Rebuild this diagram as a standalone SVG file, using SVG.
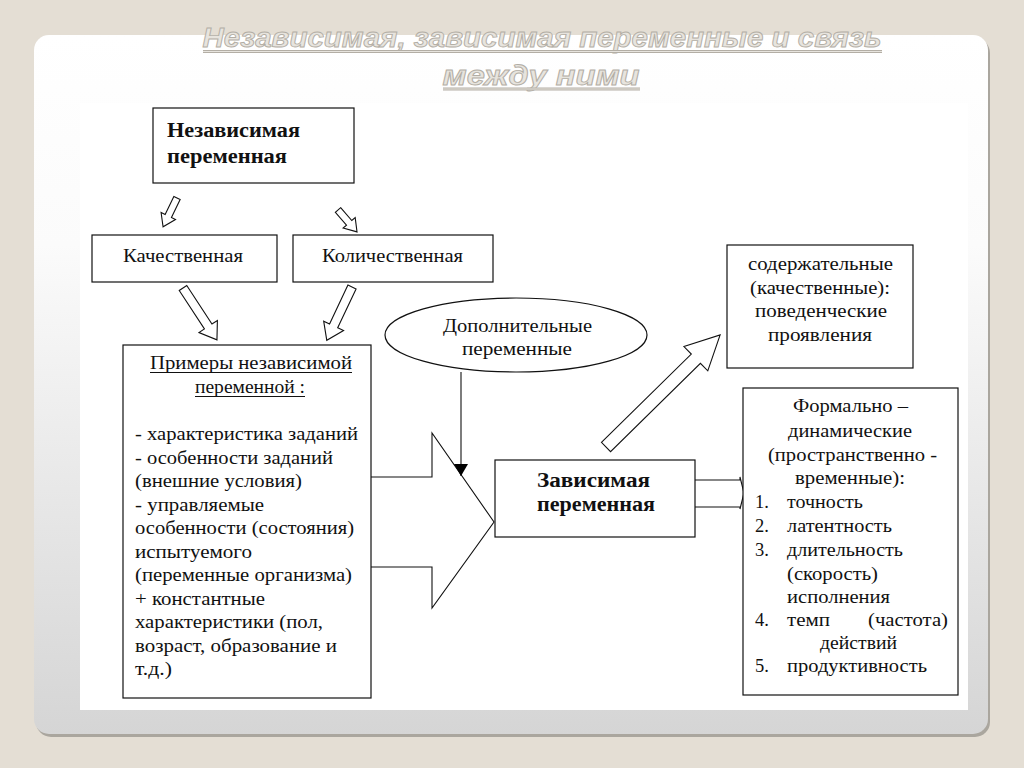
<svg xmlns="http://www.w3.org/2000/svg" width="1024" height="768" viewBox="0 0 1024 768">
<defs>
<linearGradient id="panelGrad" x1="0" y1="0" x2="0" y2="1">
<stop offset="0" stop-color="#ffffff"/>
<stop offset="0.3" stop-color="#fbfbfb"/>
<stop offset="1" stop-color="#d5d5d5"/>
</linearGradient>
<marker id="tri" markerWidth="12" markerHeight="14" refX="12" refY="7" orient="auto" markerUnits="userSpaceOnUse">
<path d="M0,0 L12,7 L0,14 Z" fill="#000"/>
</marker>
</defs>
<style>
.box{fill:#fff;stroke:#111;stroke-width:1.2}
.line{fill:none;stroke:#111;stroke-width:1.1}
.blk{fill:#fff;stroke:#111;stroke-width:1.1;stroke-linejoin:miter}
.t{font-family:"Liberation Serif","Times New Roman",serif;font-size:18.5px;fill:#111}
.tb{font-family:"Liberation Serif","Times New Roman",serif;font-size:20px;font-weight:bold;fill:#111}
.title{font-family:"Liberation Sans",Arial,sans-serif;font-size:27px;font-style:italic;font-weight:bold;fill:#e7e4de;stroke:#b3aea5;stroke-width:0.9;text-anchor:middle}
.ul{stroke:#b3aea5;stroke-width:3.2;fill:none}
.ul2{stroke:#e7e4de;stroke-width:1.2;fill:none}
</style>
<rect x="0" y="0" width="1024" height="768" fill="#e4ded4"/>
<rect x="36" y="38" width="954" height="699" rx="15" fill="#aaa69e"/>
<rect x="34" y="35" width="954" height="699" rx="15" fill="url(#panelGrad)"/>
<rect x="80" y="103" width="888" height="607" fill="#ffffff"/>

<g id="title">
<text class="title" x="542" y="47" textLength="679" lengthAdjust="spacingAndGlyphs">Независимая, зависимая переменные и связь</text>
<path class="ul" d="M203,51.5 H882"/>
<path class="ul2" d="M203,51.5 H882"/>
<text class="title" x="541" y="85" textLength="197" lengthAdjust="spacingAndGlyphs">между ними</text>
<path class="ul" d="M443,89 H640"/>
<path class="ul2" d="M443,89 H640"/>
</g>

<g id="connectors">
<path class="blk" transform="translate(177,198) rotate(115.8)" d="M0,-3.5 L20,-3.5 L20,-8 L32,0 L20,8 L20,3.5 L0,3.5 Z"/>
<path class="blk" transform="translate(338,210) rotate(49)" d="M0,-3.5 L17,-3.5 L17,-8 L29,0 L17,8 L17,3.5 L0,3.5 Z"/>
<path class="blk" transform="translate(183,288) rotate(56.8)" d="M0,-4.5 L46,-4.5 L46,-11 L62,0 L46,11 L46,4.5 L0,4.5 Z"/>
<path class="blk" transform="translate(352,287) rotate(115.3)" d="M0,-4.5 L43,-4.5 L43,-11 L59,0 L43,11 L43,4.5 L0,4.5 Z"/>
<path class="blk" transform="translate(606,447) rotate(-44.5)" d="M0,-6.5 L126,-6.5 L126,-17 L160,0 L126,17 L126,6.5 L0,6.5 Z"/>
<path class="blk" d="M371,477 H432 V433 L494,522 L432,608 V567 H371"/>
<path class="blk" d="M695,480 H740 V477 L744,493 L740,509 V507 H695"/>
<path class="line" d="M461,372 V476" marker-end="url(#tri)"/>
</g>

<g id="node-independent">
<rect class="box" x="153" y="108" width="201" height="75"/>
<text class="tb" x="167" y="137" textLength="133" lengthAdjust="spacingAndGlyphs">Независимая</text>
<text class="tb" x="167" y="163" textLength="120" lengthAdjust="spacingAndGlyphs">переменная</text>
</g>

<g id="node-qualitative">
<rect class="box" x="92" y="235" width="185" height="47"/>
<text class="t" x="123" y="262" textLength="120" lengthAdjust="spacingAndGlyphs">Качественная</text>
</g>

<g id="node-quantitative">
<rect class="box" x="293" y="235" width="200" height="47"/>
<text class="t" x="322" y="262" textLength="141" lengthAdjust="spacingAndGlyphs">Количественная</text>
</g>

<g id="node-examples">
<rect class="box" x="123" y="345" width="248" height="353"/>
<text class="t" x="150" y="369" textLength="202" lengthAdjust="spacingAndGlyphs">Примеры независимой</text>
<path class="line" d="M150,372.5 H352"/>
<text class="t" x="195" y="393" textLength="110" lengthAdjust="spacingAndGlyphs">переменной :</text>
<path class="line" d="M195,396.5 H305"/>
<text class="t" x="135" y="440" textLength="223" lengthAdjust="spacingAndGlyphs">- характеристика заданий</text>
<text class="t" x="135" y="463.5" textLength="198" lengthAdjust="spacingAndGlyphs">- особенности заданий</text>
<text class="t" x="135" y="487" textLength="167" lengthAdjust="spacingAndGlyphs">(внешние условия)</text>
<text class="t" x="135" y="510.5" textLength="129" lengthAdjust="spacingAndGlyphs">- управляемые</text>
<text class="t" x="135" y="534" textLength="219" lengthAdjust="spacingAndGlyphs">особенности (состояния)</text>
<text class="t" x="135" y="557.5" textLength="117" lengthAdjust="spacingAndGlyphs">испытуемого</text>
<text class="t" x="135" y="581" textLength="217" lengthAdjust="spacingAndGlyphs">(переменные организма)</text>
<text class="t" x="135" y="604.5" textLength="130" lengthAdjust="spacingAndGlyphs">+ константные</text>
<text class="t" x="135" y="628" textLength="188" lengthAdjust="spacingAndGlyphs">характеристики (пол,</text>
<text class="t" x="135" y="651.5" textLength="202" lengthAdjust="spacingAndGlyphs">возраст, образование и</text>
<text class="t" x="135" y="675" textLength="37" lengthAdjust="spacingAndGlyphs">т.д.)</text>
</g>

<g id="node-additional">
<ellipse class="box" cx="516" cy="335" rx="131" ry="37"/>
<text class="t" x="443" y="332" textLength="149" lengthAdjust="spacingAndGlyphs">Дополнительные</text>
<text class="t" x="462" y="355" textLength="110" lengthAdjust="spacingAndGlyphs">переменные</text>
</g>

<g id="node-dependent">
<rect class="box" x="495" y="460" width="200" height="77"/>
<text class="tb" x="537" y="487" textLength="113" lengthAdjust="spacingAndGlyphs">Зависимая</text>
<text class="tb" x="537" y="511" textLength="118" lengthAdjust="spacingAndGlyphs">переменная</text>
</g>

<g id="node-content">
<rect class="box" x="727" y="245" width="186" height="123"/>
<text class="t" x="748" y="270" textLength="145" lengthAdjust="spacingAndGlyphs">содержательные</text>
<text class="t" x="750" y="293.5" textLength="140" lengthAdjust="spacingAndGlyphs">(качественные):</text>
<text class="t" x="755" y="317" textLength="132" lengthAdjust="spacingAndGlyphs">поведенческие</text>
<text class="t" x="768" y="340.5" textLength="104" lengthAdjust="spacingAndGlyphs">проявления</text>
</g>

<g id="node-formal">
<rect class="box" x="743" y="388" width="215" height="307"/>
<text class="t" x="793" y="412" textLength="115" lengthAdjust="spacingAndGlyphs">Формально –</text>
<text class="t" x="788" y="437" textLength="124" lengthAdjust="spacingAndGlyphs">динамические</text>
<text class="t" x="768" y="461" textLength="169" lengthAdjust="spacingAndGlyphs">(пространственно -</text>
<text class="t" x="795" y="484" textLength="110" lengthAdjust="spacingAndGlyphs">временные):</text>
<text class="t" x="755" y="508">1.</text>
<text class="t" x="787" y="508" textLength="76" lengthAdjust="spacingAndGlyphs">точность</text>
<text class="t" x="755" y="532">2.</text>
<text class="t" x="787" y="532" textLength="105" lengthAdjust="spacingAndGlyphs">латентность</text>
<text class="t" x="755" y="556">3.</text>
<text class="t" x="787" y="556" textLength="116" lengthAdjust="spacingAndGlyphs">длительность</text>
<text class="t" x="787" y="579.5" textLength="91" lengthAdjust="spacingAndGlyphs">(скорость)</text>
<text class="t" x="787" y="602.5" textLength="103" lengthAdjust="spacingAndGlyphs">исполнения</text>
<text class="t" x="755" y="625.5">4.</text>
<text class="t" x="787" y="625.5" textLength="43" lengthAdjust="spacingAndGlyphs">темп</text>
<text class="t" x="868" y="625.5" textLength="80" lengthAdjust="spacingAndGlyphs">(частота)</text>
<text class="t" x="820" y="648.5" textLength="77" lengthAdjust="spacingAndGlyphs">действий</text>
<text class="t" x="755" y="672">5.</text>
<text class="t" x="787" y="672" textLength="140" lengthAdjust="spacingAndGlyphs">продуктивность</text>
</g>
</svg>
